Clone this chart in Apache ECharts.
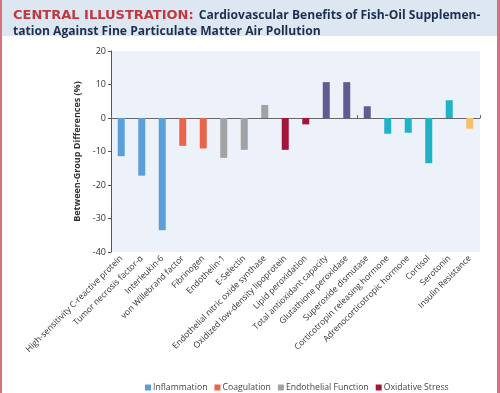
<!DOCTYPE html>
<html><head><meta charset="utf-8">
<script src="https://cdn.jsdelivr.net/npm/echarts@6/dist/echarts.min.js"></script>
<style>html,body{margin:0;padding:0;background:#fff}#c{width:500px;height:393px}</style>
</head><body><div id="c"></div>
<script>
const categories = ["High-sensitivity C-reactive protein","Tumor necrosis factor-α","Interleukin-6","von Willebrand factor","Fibrinogen","Endothelin-1","E-Selectin","Endothelial nitric oxide synthase","Oxidized low-density lipoprotein","Lipid peroxidation","Total antioxidant capacity","Glutathione peroxidase","Superoxide dismutase","Corticotropin releasing hormone","Adrenocorticotropic hormone","Cortisol","Serotonin","Insulin Resistance"];
const values = [-11.4,-17.2,-33.5,-8.3,-9.1,-11.9,-9.5,3.9,-9.5,-1.9,10.7,10.7,3.5,-4.7,-4.4,-13.5,5.3,-3.2];
const groups = ["Inflammation","Inflammation","Inflammation","Coagulation","Coagulation","Endothelial Function","Endothelial Function","Endothelial Function","Oxidative Stress","Oxidative Stress","Antioxidant","Antioxidant","Antioxidant","Neuroendocrine","Neuroendocrine","Neuroendocrine","Neuroendocrine","Metabolism"];
const groupNames = ["Inflammation","Coagulation","Endothelial Function","Oxidative Stress","Antioxidant","Neuroendocrine","Metabolism"];
const legendNames = ["Inflammation","Coagulation","Endothelial Function","Oxidative Stress"];
const yTicks = [-40,-30,-20,-10,0,10,20];
const groupColors = {"Inflammation":"#5b9fd8","Coagulation":"#e8644b","Endothelial Function":"#a2a2a4","Oxidative Stress":"#a31639","Antioxidant":"#615b92","Neuroendocrine":"#1fb3c6","Metabolism":"#f5bf6e"};

const chart = echarts.init(document.getElementById('c'));
const font = '"Open Sans", "Noto Sans", sans-serif';
const series = groupNames.map(g => ({
  name: g, type: 'bar', stack: 'all', barWidth: 7,
  itemStyle: {color: groupColors[g]},
  data: values.map((v,i) => groups[i] === g ? v : null),
  xAxisIndex: 0
}));
series.push({type:'bar', xAxisIndex:1, data: [], silent:true});
chart.setOption({
  animation: false,
  backgroundColor: '#fff',
  graphic: [
    {type:'rect', shape:{x:0,y:0,width:500,height:36}, style:{fill:'#dde7f2'}, z:-1},
    {type:'rect', shape:{x:0,y:0,width:2,height:393}, style:{fill:'#d4737c'}},
    {type:'rect', shape:{x:497,y:0,width:3,height:393}, style:{fill:'#d4737c'}}
  ],
  title: {
    left: 13, top: 7, padding: 0,
    text: '{a|CENTRAL ILLUSTRATION:} {b|Cardiovascular Benefits of Fish-Oil Supplemen-}\n{b|tation Against Fine Particulate Matter Air Pollution}',
    textStyle: {
      rich: {
        a: {fontFamily: '"DejaVu Sans", sans-serif', fontSize: 13, fontWeight: 'bold', color: '#c0393f', lineHeight: 13.5},
        b: {fontFamily: font, fontSize: 12.1, fontWeight: 'bold', color: '#1d2f4f', lineHeight: 13.5}
      }
    }
  },
  legend: {
    data: legendNames, top: 378, left: 140, itemWidth: 6, itemHeight: 6, itemGap: 7,
    icon: 'rect', textStyle: {fontFamily: font, fontSize: 8.7, color: '#444', padding:[0,0,0,-3]}
  },
  grid: {left: 111, right: 20, top: 51, bottom: 141, backgroundColor: '#edf2fa', show: true, borderWidth: 0},
  xAxis: [{
    type: 'category', data: categories,
    axisLine: {show: false, onZero: false}, axisTick: {show: false},
    axisLabel: {rotate: 45, interval: 0, fontFamily: font, fontSize: 8.5, color: '#333', margin: 5}
  },{
    type: 'category', data: categories, position: 'bottom',
    axisLine: {show: true, onZero: true, lineStyle: {color: '#666', width: 1}},
    axisTick: {show: true, inside: true, length: 3, lineStyle: {color: '#666'}},
    axisLabel: {show: false}
  }],
  yAxis: {
    type: 'value', min: yTicks[0], max: yTicks[yTicks.length-1], interval: 10,
    name: 'Between-Group Differences (%)', nameLocation: 'middle', nameGap: 18, nameRotate: 90,
    nameTextStyle: {fontFamily: font, fontSize: 9, fontWeight: 'bold', color: '#333'},
    axisLine: {show: true, lineStyle: {color: '#555'}},
    axisTick: {show: true, length: 3, lineStyle: {color: '#555'}},
    axisLabel: {fontFamily: font, fontSize: 9, color: '#333', margin: 5},
    splitLine: {show: false}
  },
  series: series
});
</script></body></html>
